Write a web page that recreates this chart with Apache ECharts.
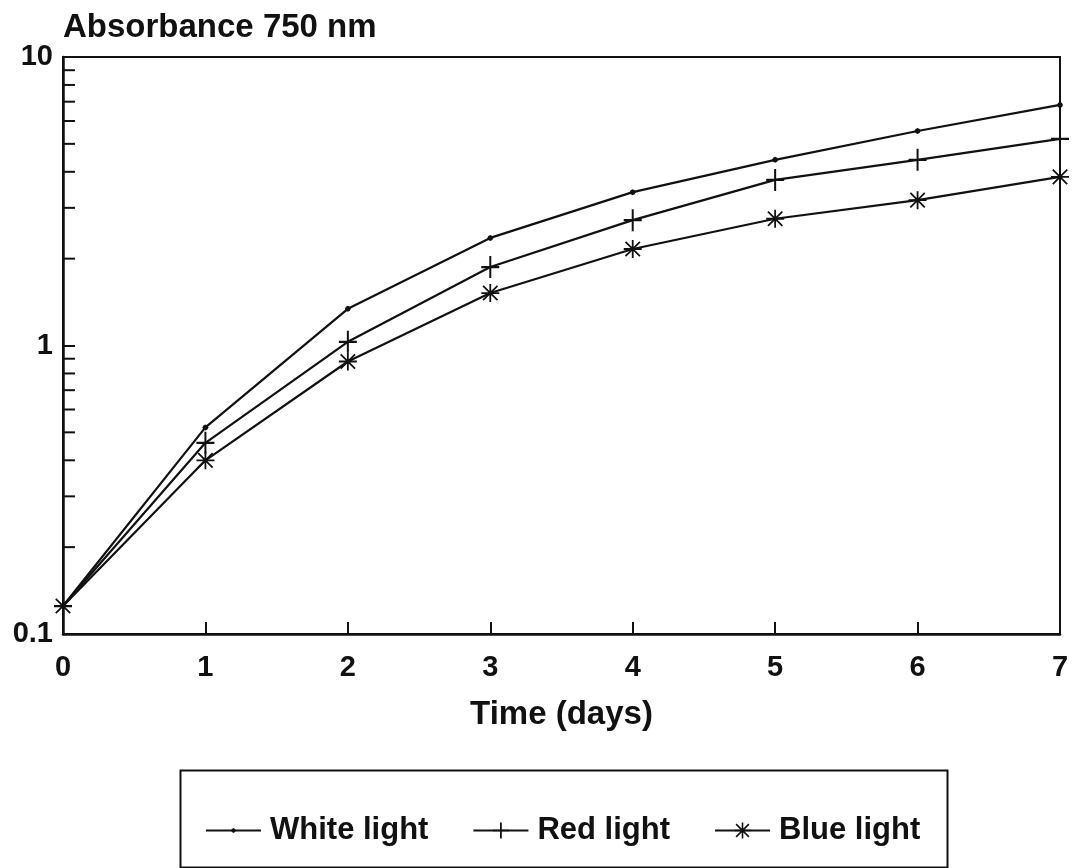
<!DOCTYPE html>
<html>
<head>
<meta charset="utf-8">
<script src="https://cdn.jsdelivr.net/npm/echarts@6/dist/echarts.min.js"></script>
<style>
  html, body { margin: 0; padding: 0; background: #fff; }
  #chart { width: 1073px; height: 868px; }
</style>
</head>
<body>
<div id="chart"></div>
<script>
// time axis (days)
const days = [0, 1, 2, 3, 4, 5, 6, 7];
// absorbance at 750 nm
const whiteLight = [0.125, 0.52, 1.34, 2.36, 3.40, 4.40, 5.54, 6.82];
const redLight   = [0.125, 0.46, 1.03, 1.87, 2.72, 3.75, 4.40, 5.20];
const blueLight  = [0.125, 0.40, 0.88, 1.52, 2.16, 2.75, 3.19, 3.84];
// log minor ticks on the left axis
const minorTicks = [0.2, 0.3, 0.4, 0.5, 0.6, 0.7, 0.8, 0.9, 2, 3, 4, 5, 6, 7, 8, 9];

const FONT = 'Liberation Sans, Arial, sans-serif';
// small dot padded inside a 20x20 box so it stays small in the legend too
const dotPath = 'path://M0,0M20,20M7,10L8,8L10,7L12,8L13,10L12,12L10,13L8,12Z';
const plusPath = 'path://M9,0h2v20h-2zM1,9h18v2h-18z';
const starPath = 'path://M9,0h2v20h-2zM0,9h20v2h-20zM1.3,2.7L2.7,1.3L18.7,17.3L17.3,18.7ZM17.3,1.3L18.7,2.7L2.7,18.7L1.3,17.3Z';

const pairs = arr => days.map((d, i) => [d, arr[i]]);

const chart = echarts.init(document.getElementById('chart'));

const lineSeries = (name, values, symbol, size) => ({
  name: name,
  type: 'line',
  data: pairs(values),
  symbol: symbol,
  symbolSize: size,
  showSymbol: true,
  clip: false,
  z: 3,
  lineStyle: { color: '#111', width: 2.2 },
  itemStyle: { color: '#111' },
  emphasis: { disabled: true }
});

chart.setOption({
  animation: false,
  backgroundColor: '#fff',
  textStyle: { fontFamily: FONT },
  grid: {
    left: 63, right: 13, top: 57, bottom: 234,
    show: true, borderColor: '#111', borderWidth: 2
  },
  xAxis: {
    type: 'value',
    min: 0, max: 7, interval: 1,
    name: 'Time (days)',
    nameLocation: 'middle',
    nameGap: 64,
    nameTextStyle: { fontSize: 33, fontWeight: 'bold', color: '#111', fontFamily: FONT },
    axisLine: { lineStyle: { color: '#111', width: 2.5 } },
    axisTick: { inside: true, length: 12, lineStyle: { color: '#111', width: 2 } },
    axisLabel: { margin: 19, fontSize: 29, fontWeight: 'bold', color: '#111', fontFamily: FONT },
    splitLine: { show: false }
  },
  yAxis: {
    type: 'log',
    logBase: 10,
    min: 0.1, max: 10,
    name: 'Absorbance 750 nm',
    nameLocation: 'end',
    nameGap: 13,
    nameTextStyle: { fontSize: 33, fontWeight: 'bold', color: '#111', align: 'left', fontFamily: FONT },
    axisLine: { show: true, lineStyle: { color: '#111', width: 2.5 } },
    axisTick: { inside: true, length: 12, lineStyle: { color: '#111', width: 2 } },
    axisLabel: {
      margin: 10, fontSize: 29, fontWeight: 'bold', color: '#111', fontFamily: FONT,
      padding: [12, 0, 0, 0]
    },
    splitLine: { show: false }
  },
  legend: {
    data: ['White light', 'Red light', 'Blue light'],
    left: 200, top: 810,
    itemWidth: 55, itemHeight: 20, itemGap: 44,
    textStyle: {
      fontSize: 31, fontWeight: 'bold', color: '#111', fontFamily: FONT,
      padding: [0, 0, 0, 4]
    },
    inactiveColor: '#111',
    selectedMode: false
  },
  graphic: [{
    type: 'rect',
    left: 178, top: 768,
    shape: { width: 767, height: 97 },
    style: { fill: 'none', stroke: '#111', lineWidth: 2 },
    silent: true
  }],
  series: [
    lineSeries('White light', whiteLight, dotPath, 20),
    lineSeries('Red light', redLight, plusPath, [18, 22]),
    lineSeries('Blue light', blueLight, starPath, 18),
    {
      type: 'custom',
      name: 'minor',
      silent: true,
      data: minorTicks.map(v => [0, v]),
      renderItem: (params, api) => {
        const p = api.coord([api.value(0), api.value(1)]);
        return {
          type: 'line',
          shape: { x1: p[0], y1: p[1], x2: p[0] + 12, y2: p[1] },
          style: { stroke: '#111', lineWidth: 2 }
        };
      }
    }
  ]
});
</script>
</body>
</html>
